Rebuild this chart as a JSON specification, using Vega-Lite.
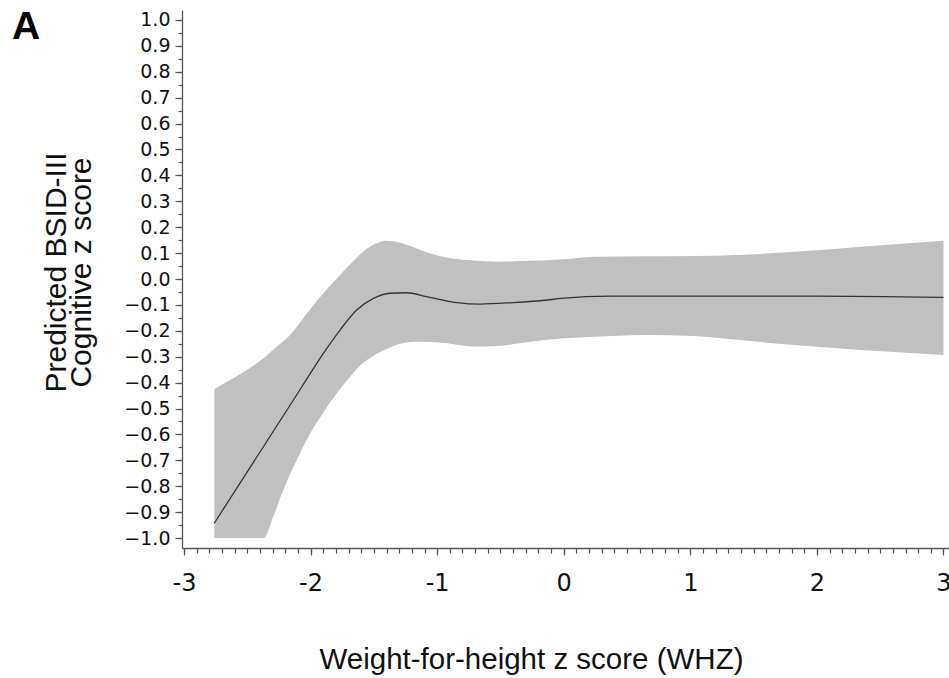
{
  "$schema": "https://vega.github.io/schema/vega-lite/v6.json",
  "autosize": "none",
  "width": 767,
  "height": 538,
  "padding": {"left": 182, "top": 10, "right": 0, "bottom": 130},
  "background": "white",
  "title": {
    "text": "A",
    "anchor": "start",
    "frame": "group",
    "font": "Liberation Sans",
    "fontSize": 39,
    "fontWeight": "bold",
    "color": "#000000",
    "baseline": "alphabetic",
    "offset": -68,
    "dx": -170
  },
  "datasets": {
    "band": [
      {"whz": -2.76, "lo": -1.0, "hi": -0.425},
      {"whz": -2.635, "lo": -1.0, "hi": -0.39},
      {"whz": -2.5, "lo": -1.0, "hi": -0.35},
      {"whz": -2.37, "lo": -1.0, "hi": -0.305},
      {"whz": -2.30, "lo": -0.925, "hi": -0.275},
      {"whz": -2.24, "lo": -0.845, "hi": -0.25},
      {"whz": -2.163, "lo": -0.755, "hi": -0.216},
      {"whz": -2.11, "lo": -0.70, "hi": -0.185},
      {"whz": -2.03, "lo": -0.62, "hi": -0.133},
      {"whz": -1.899, "lo": -0.515, "hi": -0.055},
      {"whz": -1.767, "lo": -0.425, "hi": 0.015},
      {"whz": -1.71, "lo": -0.39, "hi": 0.045},
      {"whz": -1.61, "lo": -0.335, "hi": 0.095},
      {"whz": -1.50, "lo": -0.295, "hi": 0.133},
      {"whz": -1.40, "lo": -0.27, "hi": 0.148},
      {"whz": -1.29, "lo": -0.25, "hi": 0.14},
      {"whz": -1.19, "lo": -0.242, "hi": 0.124},
      {"whz": -1.05, "lo": -0.243, "hi": 0.098},
      {"whz": -0.92, "lo": -0.248, "hi": 0.082},
      {"whz": -0.71, "lo": -0.261, "hi": 0.071},
      {"whz": -0.53, "lo": -0.259, "hi": 0.067},
      {"whz": -0.265, "lo": -0.242, "hi": 0.07},
      {"whz": 0.0, "lo": -0.229, "hi": 0.076},
      {"whz": 0.24, "lo": -0.223, "hi": 0.086},
      {"whz": 0.63, "lo": -0.216, "hi": 0.088},
      {"whz": 1.03, "lo": -0.22, "hi": 0.089},
      {"whz": 1.37, "lo": -0.235, "hi": 0.093},
      {"whz": 1.82, "lo": -0.255, "hi": 0.105},
      {"whz": 2.35, "lo": -0.274, "hi": 0.125},
      {"whz": 3.0, "lo": -0.293, "hi": 0.148}
    ],
    "fit": [
      {"whz": -2.761, "pred": -0.943},
      {"whz": -2.07, "pred": -0.417},
      {"whz": -1.899, "pred": -0.287},
      {"whz": -1.767, "pred": -0.197},
      {"whz": -1.636, "pred": -0.12},
      {"whz": -1.504, "pred": -0.075},
      {"whz": -1.372, "pred": -0.055},
      {"whz": -1.24, "pred": -0.053},
      {"whz": -1.083, "pred": -0.068},
      {"whz": -0.845, "pred": -0.091},
      {"whz": -0.66, "pred": -0.097},
      {"whz": -0.40, "pred": -0.091},
      {"whz": -0.13, "pred": -0.081},
      {"whz": -0.02, "pred": -0.075},
      {"whz": 0.37, "pred": -0.066},
      {"whz": 1.97, "pred": -0.066},
      {"whz": 3.0, "pred": -0.071}
    ]
  },
  "layer": [
    {
      "data": {"name": "band"},
      "mark": {"type": "area", "color": "#c0c0c0", "opacity": 1, "interpolate": "monotone"},
      "encoding": {
        "x": {
          "field": "whz",
          "type": "quantitative",
          "scale": {"domain": [-3.0158, 3.0435], "nice": false, "zero": false},
          "axis": {
            "orient": "bottom",
            "title": "Weight-for-height z score (WHZ)",
            "titleFont": "Liberation Sans",
            "titleFontSize": 29.5,
            "titleFontWeight": "normal",
            "titleColor": "#111111",
            "titleBaseline": "alphabetic",
            "titleAlign": "center",
            "titleX": 349,
            "titleY": 120,
            "values": [-3, -2, -1, 0, 1, 2, 3],
            "labelExpr": "'' + round(datum.value)",
            "labelOverlap": false,
            "labelFlush": false,
            "labelFont": "DejaVu Sans",
            "labelFontSize": 24,
            "labelColor": "#111111",
            "labelPadding": 16,
            "grid": false,
            "domainColor": "#555555",
            "domainWidth": 1.3,
            "tickColor": "#555555",
            "tickWidth": 1.2,
            "tickSize": 7
          }
        },
        "y": {
          "field": "lo",
          "type": "quantitative",
          "scale": {"domain": [-1.0386, 1.0386], "nice": false, "zero": false},
          "axis": {
            "orient": "left",
            "title": ["Predicted BSID-III", "Cognitive z score"],
            "titleFont": "Liberation Sans",
            "titleFontSize": 30,
            "titleFontWeight": "normal",
            "titleColor": "#111111",
            "titleLineHeight": 25.5,
            "titleAngle": -90,
            "titleAlign": "center",
            "titleBaseline": "alphabetic",
            "titleX": -117,
            "titleY": 262,
            "values": [-1, -0.9, -0.8, -0.7, -0.6, -0.5, -0.4, -0.3, -0.2, -0.1, 0, 0.1, 0.2, 0.3, 0.4, 0.5, 0.6, 0.7, 0.8, 0.9, 1],
            "format": ".1f",
            "labelOverlap": false,
            "labelFlush": false,
            "labelFont": "DejaVu Sans",
            "labelFontSize": 19,
            "labelColor": "#111111",
            "labelPadding": 5,
            "grid": false,
            "domainColor": "#555555",
            "domainWidth": 1.3,
            "tickColor": "#555555",
            "tickWidth": 1.2,
            "tickSize": 7
          }
        },
        "y2": {"field": "hi"}
      }
    },
    {
      "data": {"name": "fit"},
      "mark": {"type": "line", "color": "#333333", "strokeWidth": 1.3, "interpolate": "monotone"},
      "encoding": {
        "x": {
          "field": "whz",
          "type": "quantitative",
          "axis": {
            "orient": "bottom",
            "title": null,
            "values": [-3,-2.9,-2.8,-2.7,-2.6,-2.5,-2.4,-2.3,-2.2,-2.1,-2,-1.9,-1.8,-1.7,-1.6,-1.5,-1.4,-1.3,-1.2,-1.1,-1,-0.9,-0.8,-0.7,-0.6,-0.5,-0.4,-0.3,-0.2,-0.1,0,0.1,0.2,0.3,0.4,0.5,0.6,0.7,0.8,0.9,1,1.1,1.2,1.3,1.4,1.5,1.6,1.7,1.8,1.9,2,2.1,2.2,2.3,2.4,2.5,2.6,2.7,2.8,2.9,3],
            "labels": false,
            "domain": false,
            "grid": false,
            "tickColor": "#555555",
            "tickWidth": 1.2,
            "tickSize": 5
          }
        },
        "y": {
          "field": "pred",
          "type": "quantitative",
          "axis": {
            "orient": "left",
            "title": null,
            "values": [-1,-0.95,-0.9,-0.85,-0.8,-0.75,-0.7,-0.65,-0.6,-0.55,-0.5,-0.45,-0.4,-0.35,-0.3,-0.25,-0.2,-0.15,-0.1,-0.05,0,0.05,0.1,0.15,0.2,0.25,0.3,0.35,0.4,0.45,0.5,0.55,0.6,0.65,0.7,0.75,0.8,0.85,0.9,0.95,1],
            "labels": false,
            "domain": false,
            "grid": false,
            "tickColor": "#555555",
            "tickWidth": 1.2,
            "tickSize": 4
          }
        }
      }
    }
  ],
  "resolve": {"axis": {"x": "independent", "y": "independent"}},
  "config": {
    "view": {"stroke": null}
  }
}
